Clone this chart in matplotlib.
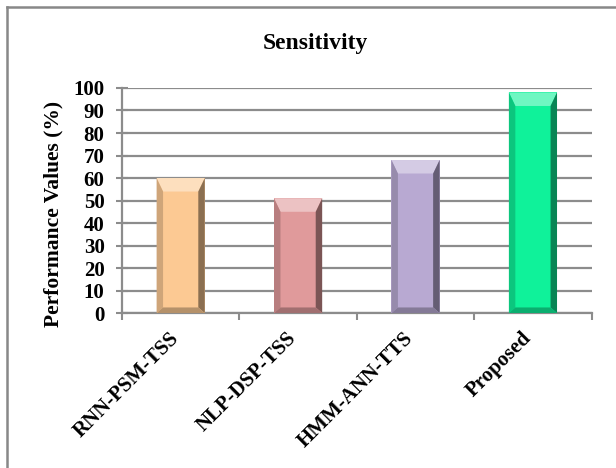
import numpy as np
import matplotlib
matplotlib.use('Agg')
import matplotlib.pyplot as plt
import matplotlib.transforms as mtransforms
from matplotlib.colors import to_rgb
from matplotlib.lines import Line2D
from matplotlib.patches import Polygon

methods = ['RNN-PSM-TSS', 'NLP-DSP-TSS', 'HMM-ANN-TTS', 'Proposed']
sensitivity = [60, 51, 68, 98]
bar_colors = ['#FCC993', '#E09A9B', '#B8A9D2', '#0FF29A']

plt.rcParams['font.family'] = 'Liberation Serif'
plt.rcParams['font.weight'] = 'bold'

grid_gray = '#8c8c8c'
fs = 15


def tint(c, f):
    r = np.array(to_rgb(c))
    return tuple(r + (1 - r) * f)


def shade(c, f):
    return tuple(np.array(to_rgb(c)) * f)


fig = plt.figure(figsize=(6.16, 4.68), dpi=100)
ax = fig.add_axes([0.198, 0.331, 0.7625, 0.481])

x = np.arange(len(methods))
width = 0.41
bars = ax.bar(x, sensitivity, width=width, color=bar_colors, zorder=3)

# bevelled look: light top face, shaded sides and bottom
dx, dyt, dyb = 0.055, 6.0, 2.5
for b, c in zip(bars, bar_colors):
    x0 = b.get_x()
    x1 = x0 + b.get_width()
    h = b.get_height()
    faces = [
        ([(x0, h), (x1, h), (x1 - dx, h - dyt), (x0 + dx, h - dyt)], tint(c, 0.4)),
        ([(x0, 0), (x0, h), (x0 + dx, h - dyt), (x0 + dx, dyb)], shade(c, 0.82)),
        ([(x1, 0), (x1, h), (x1 - dx, h - dyt), (x1 - dx, dyb)], shade(c, 0.55)),
        ([(x0, 0), (x1, 0), (x1 - dx, dyb), (x0 + dx, dyb)], shade(c, 0.72)),
    ]
    for pts, fc in faces:
        ax.add_patch(Polygon(pts, closed=True, facecolor=fc, edgecolor='none', zorder=4))

ax.set_xlim(-0.5, len(methods) - 0.5)
ax.set_ylim(0, 100)
ax.set_yticks(np.arange(0, 101, 10))
ax.yaxis.grid(True, color=grid_gray, linewidth=1.6, zorder=1)
ax.set_axisbelow(True)

ax.set_xticks(np.arange(-0.5, len(methods), 1))
ax.set_xticklabels([])
ax.set_xticks(x, minor=True)
ax.set_xticklabels(methods, minor=True, rotation=45, ha='right', va='center',
                   rotation_mode='anchor', fontsize=fs, fontweight='bold')
ax.tick_params(axis='x', which='minor', length=0, pad=16)
ax.tick_params(axis='x', which='major', direction='out', length=5, width=1.5, color=grid_gray)
ax.tick_params(axis='y', direction='inout', length=9, width=1.5, color=grid_gray,
               labelsize=fs, pad=8)
for t in ax.get_yticklabels():
    t.set_fontweight('bold')

# nudge category labels a little to the left
shift = mtransforms.ScaledTranslation(-0.05, 0, fig.dpi_scale_trans)
for t in ax.get_xticklabels(minor=True):
    t.set_transform(t.get_transform() + shift)

for s in ['top', 'right']:
    ax.spines[s].set_visible(False)
for s in ['left', 'bottom']:
    ax.spines[s].set_color(grid_gray)
    ax.spines[s].set_linewidth(1.6)

ax.set_ylabel('Performance Values (%)', fontsize=15.5, fontweight='bold')
ax.yaxis.set_label_coords(-0.125, 0.44)

fig.text(315 / 616, 1 - 43 / 468, 'Sensitivity', ha='center', va='center',
         fontsize=17, fontweight='bold')

# chart frame (left and top edges)
fig.add_artist(Line2D([7 / 616, 7 / 616], [0, 1 - 7 / 468], color='#888888', linewidth=1.8))
fig.add_artist(Line2D([7 / 616, 1], [1 - 7 / 468, 1 - 7 / 468], color='#888888', linewidth=1.8))

fig.savefig('out.png', dpi=100)
